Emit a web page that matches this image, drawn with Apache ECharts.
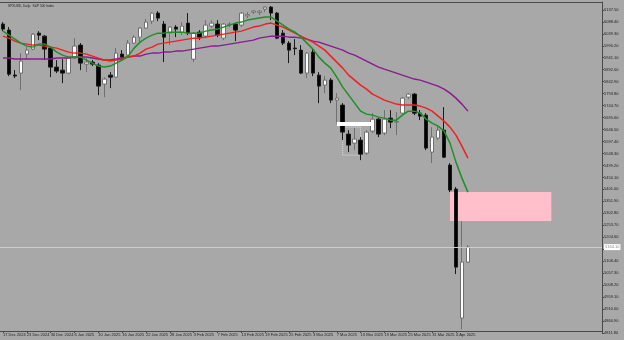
<!DOCTYPE html>
<html><head><meta charset="utf-8">
<script src="https://cdn.jsdelivr.net/npm/echarts@6/dist/echarts.min.js"></script>
<style>html,body{margin:0;padding:0;background:#a8a8a8}#c{width:624px;height:340px}</style>
</head><body><div id="c"></div>
<script>
const titleText = "SPXUSD, Daily:  S&P 500 Index";
const dates = ["17 Dec 2024","18 Dec 2024","19 Dec 2024","20 Dec 2024","23 Dec 2024","24 Dec 2024","26 Dec 2024","27 Dec 2024","30 Dec 2024","31 Dec 2024",
"2 Jan 2025","3 Jan 2025","6 Jan 2025","7 Jan 2025","8 Jan 2025","9 Jan 2025","10 Jan 2025","13 Jan 2025","14 Jan 2025","15 Jan 2025","16 Jan 2025","17 Jan 2025","20 Jan 2025","21 Jan 2025","22 Jan 2025","23 Jan 2025","24 Jan 2025","27 Jan 2025","28 Jan 2025","29 Jan 2025","30 Jan 2025","31 Jan 2025",
"3 Feb 2025","4 Feb 2025","5 Feb 2025","6 Feb 2025","7 Feb 2025","10 Feb 2025","11 Feb 2025","12 Feb 2025","13 Feb 2025","14 Feb 2025","17 Feb 2025","18 Feb 2025","19 Feb 2025","20 Feb 2025","21 Feb 2025","24 Feb 2025","25 Feb 2025","26 Feb 2025","27 Feb 2025","28 Feb 2025",
"3 Mar 2025","4 Mar 2025","5 Mar 2025","6 Mar 2025","7 Mar 2025","10 Mar 2025","11 Mar 2025","12 Mar 2025","13 Mar 2025","14 Mar 2025","17 Mar 2025","18 Mar 2025","19 Mar 2025","20 Mar 2025","21 Mar 2025","24 Mar 2025","25 Mar 2025","26 Mar 2025","27 Mar 2025","28 Mar 2025","31 Mar 2025",
"1 Apr 2025","2 Apr 2025","3 Apr 2025","4 Apr 2025","7 Apr 2025","8 Apr 2025"];
const opens = [6079.0,6054.4,5870.0,5878.0,5955.9,5976.4,6042.0,6029.7,5980.5,5902.6,
5890.2,5878.0,5939.5,5992.8,5914.9,5923.1,5910.8,5832.8,5869.7,5861.5,5955.9,5951.8,6001.0,6025.6,6062.6,6091.3,6124.1,6079.0,6042.0,6066.7,6046.1,6083.1,
5935.4,6046.1,6029.7,6070.8,6079.0,6021.5,6077.0,6079.0,6074.9,6113.0,6128.2,6126.0,6140.5,6148.7,6124.1,6042.0,6001.0,5980.5,5972.3,5878.0,
5964.1,5869.7,5828.7,5849.2,5767.2,5746.7,5627.7,5590.8,5603.1,5549.8,5640.0,5689.2,5631.8,5693.3,5676.9,5713.8,5779.5,5791.8,5713.8,5705.6,5553.9,
5611.3,5644.1,5500.5,5402.1,4872.9,5102.6];
const closes = [6058.5,5873.8,5866.0,5927.2,5972.3,6037.9,6033.8,5976.4,5902.6,5886.2,
5878.0,5939.5,5988.7,5919.0,5923.1,5914.9,5824.6,5853.4,5861.5,5960.0,5943.6,6001.0,6025.6,6062.6,6087.2,6124.1,6103.6,6025.6,6066.7,6058.5,6070.8,6042.0,
6042.0,6025.6,6074.9,6083.1,6033.8,6079.0,6079.0,6054.4,6124.1,6118.0,6132.3,6132.0,6148.7,6124.1,6021.5,6001.0,5972.3,5978.0,5878.0,5960.0,
5878.0,5824.6,5849.2,5767.2,5775.4,5635.9,5582.6,5607.2,5545.6,5635.9,5689.2,5627.7,5689.2,5676.9,5679.0,5775.4,5791.8,5713.8,5701.5,5570.3,5615.4,
5644.1,5533.3,5398.0,5082.1,5102.6,5164.1];
const lows = [6050.2,5865.6,5857.4,5808.2,5935.4,5972.3,6013.3,5931.3,5861.5,5878.0,
5836.9,5873.8,5935.4,5890.2,5882.0,5906.7,5787.7,5779.5,5816.4,5857.4,5931.3,5947.7,5996.9,6005.1,6058.5,6079.0,6091.3,5923.1,5992.8,6025.6,6033.8,6033.8,
5923.1,6013.3,6021.5,6062.6,6025.6,6013.3,6066.7,6009.2,6066.7,6103.6,6120.0,6115.9,6128.2,6095.4,6017.4,5992.8,5919.0,5951.8,5873.8,5857.4,
5865.6,5754.9,5795.9,5754.9,5664.6,5603.1,5553.9,5562.1,5521.0,5541.5,5631.8,5615.4,5623.6,5652.3,5623.6,5709.7,5771.3,5705.6,5685.1,5562.1,5508.7,
5603.1,5529.2,5389.8,5053.4,4826.0,5098.5];
const highs = [6087.2,6066.7,5890.2,5960.0,5984.6,6042.0,6050.2,6033.8,5988.7,5931.3,
5935.4,5947.7,6021.5,6001.0,5939.5,5931.3,5919.0,5861.5,5882.0,5980.5,5972.3,6013.3,6033.8,6066.7,6099.5,6128.2,6132.3,6091.3,6070.8,6074.9,6087.2,6124.1,
6046.1,6054.4,6095.4,6095.4,6095.4,6083.1,6087.2,6083.1,6128.2,6128.2,6136.4,6136.4,6152.8,6152.8,6128.2,6054.4,6009.2,6017.4,5992.8,5964.1,
5980.5,5882.0,5865.6,5857.4,5795.9,5754.9,5644.1,5652.3,5615.4,5644.1,5713.8,5693.3,5726.2,5726.2,5717.9,5779.5,5795.9,5795.9,5726.2,5713.8,5656.4,
5664.6,5738.5,5508.7,5410.3,5270.8,5172.3];
const maGreen = [6050.2,6033.8,6017.4,6001.0,5988.7,5984.6,5996.9,5996.9,5984.6,5964.1,
5951.8,5943.6,5943.6,5943.6,5931.3,5919.0,5906.7,5902.6,5906.7,5919.0,5931.3,5947.7,5980.5,6005.1,6021.5,6033.8,6042.0,6042.0,6046.1,6046.1,6046.1,6042.0,
6042.0,6042.0,6050.2,6054.4,6058.5,6066.7,6074.9,6083.1,6087.2,6095.4,6099.5,6103.6,6107.7,6107.7,6091.3,6074.9,6058.5,6046.1,6025.6,6001.0,
5976.4,5943.6,5919.0,5898.4,5861.5,5820.5,5787.7,5754.9,5722.0,5709.7,5705.6,5697.4,5693.3,5685.1,5685.1,5705.6,5722.0,5722.0,5713.8,5689.2,5672.8,
5660.5,5640.0,5590.8,5512.8,5447.2,5389.8];
const maRed = [6029.7,6021.5,6009.2,6001.0,5996.9,5992.8,5992.8,5988.7,5984.6,5980.5,
5972.3,5964.1,5960.0,5960.0,5955.9,5947.7,5939.5,5931.3,5927.2,5931.3,5935.4,5943.6,5947.7,5960.0,5976.4,5984.6,5996.9,6001.0,6005.1,6009.2,6013.3,6017.4,
6021.5,6021.5,6025.6,6029.7,6033.8,6037.9,6042.0,6046.1,6050.2,6058.5,6066.7,6070.8,6079.0,6083.1,6074.9,6066.7,6054.4,6042.0,6029.7,6017.4,
6005.1,5988.7,5972.3,5947.7,5923.1,5898.4,5869.7,5849.2,5828.7,5812.3,5791.8,5779.5,5767.2,5759.0,5750.8,5746.7,5746.7,5746.7,5742.6,5734.3,5722.0,
5701.5,5681.0,5656.4,5623.6,5578.5,5529.2];
const maPurple = [5939.5,5939.5,5935.4,5935.4,5935.4,5935.4,5935.4,5935.4,5935.4,5939.5,
5939.5,5939.5,5943.6,5943.6,5943.6,5939.5,5935.4,5931.3,5931.3,5935.4,5939.5,5943.6,5947.7,5947.7,5955.9,5960.0,5960.0,5964.1,5964.1,5968.2,5968.2,5972.3,
5976.4,5980.5,5984.6,5988.7,5988.7,5992.8,5996.9,6001.0,6005.1,6009.2,6013.3,6021.5,6025.6,6029.7,6029.7,6029.7,6025.6,6025.6,6021.5,6017.4,
6009.2,6005.1,5996.9,5988.7,5980.5,5972.3,5960.0,5951.8,5939.5,5927.2,5914.9,5902.6,5894.3,5886.2,5878.0,5869.7,5861.5,5853.4,5849.2,5841.0,5832.8,
5824.6,5812.3,5795.9,5775.4,5750.8,5722.0];
const currentPrice = 5164.1;
const zoneTop = 5389.8, zoneBottom = 5270.8;
const zoneStart = 75, zoneEnd = 92;
const whiteLevel = 5668.7, whiteStart = 56, whiteEnd = 62;
const boxTop = 5656.4, boxBottom = 5541.5, boxStart = 57, boxEnd = 60;
const yMin = 4811.8, yMax = 6169.7, yStep = 49.1;
const totalSlots = 101;

const cats = dates.concat(Array.from({length: totalSlots - dates.length}, (_, i) => 'slot' + i));
const ohlc = dates.map((d, i) => [opens[i], closes[i], lows[i], highs[i]]);
const showIdx = (i) => i % 4 === 0 && i < dates.length;
const frame = '#4a4a4a';
const font = 'Liberation Sans';

const chart = echarts.init(document.getElementById('c'));
chart.setOption({
  animation: false,
  backgroundColor: '#a8a8a8',
  title: {text: titleText, left: 3, top: 0, textStyle: {fontSize: 3.2, fontWeight: 'normal', color: '#222', fontFamily: font}},
  grid: {left: -1, top: 2, width: 603, height: 331, show: false},
  xAxis: [{
    type: 'category', data: cats, boundaryGap: true, offset: -2,
    axisLine: {show: true, lineStyle: {color: frame}},
    axisTick: {show: true, alignWithLabel: true, length: 2, interval: showIdx, lineStyle: {color: frame}},
    axisLabel: {interval: showIdx, align: 'left', fontSize: 4, margin: 2, color: '#222', fontFamily: font},
    splitLine: {show: false}
  }, {
    type: 'category', data: cats, boundaryGap: true, position: 'top',
    axisLine: {show: true, lineStyle: {color: frame}},
    axisTick: {show: false}, axisLabel: {show: false}, splitLine: {show: false}
  }],
  yAxis: {
    type: 'value', position: 'right', min: yMin, max: yMax, interval: yStep,
    axisLine: {show: true, lineStyle: {color: frame}},
    axisTick: {show: true, length: 2, lineStyle: {color: frame}},
    axisLabel: {fontSize: 4, margin: 2, color: '#222', fontFamily: font, showMaxLabel: false, formatter: v => v.toFixed(2)},
    splitLine: {show: false}
  },
  series: [
    {
      type: 'candlestick', data: ohlc, barWidth: 4, silent: true,
      itemStyle: {color: '#ffffff', color0: '#000000', borderColor: '#707070', borderColor0: '#1a1a1a', borderWidth: 1},
      markArea: {
        silent: true,
        data: [
          [{xAxis: zoneStart, yAxis: zoneTop, itemStyle: {color: '#ffc0cb'}}, {xAxis: zoneEnd, yAxis: zoneBottom}],
          [{xAxis: boxStart, yAxis: boxTop, itemStyle: {color: 'rgba(0,0,0,0)', borderColor: '#dcdcdc', borderType: 'dotted', borderWidth: 1}}, {xAxis: boxEnd, yAxis: boxBottom}]
        ]
      },
      markLine: {
        silent: true, symbol: ['none', 'none'],
        data: [
          {yAxis: currentPrice, lineStyle: {color: '#cdcdcd', width: 1, type: 'solid'},
           label: {show: true, position: 'end', distance: 2, formatter: () => currentPrice.toFixed(2), backgroundColor: '#ffffff', color: '#8a8a8a', fontSize: 4, padding: [1, 1], fontFamily: font}},
          [{coord: [whiteStart, whiteLevel], lineStyle: {color: '#ffffff', width: 4, type: 'solid'}, label: {show: false}}, {coord: [whiteEnd, whiteLevel]}]
        ]
      }
    },
    {type: 'line', data: maPurple, symbol: 'none', silent: true, z: 3, lineStyle: {color: '#8b1c8e', width: 1.5}},
    {type: 'line', data: maRed, symbol: 'none', silent: true, z: 3, lineStyle: {color: '#f02020', width: 1.5}},
    {type: 'line', data: maGreen, symbol: 'none', silent: true, z: 3, lineStyle: {color: '#1f8f28', width: 1.5}}
  ]
});
</script>
</body></html>
